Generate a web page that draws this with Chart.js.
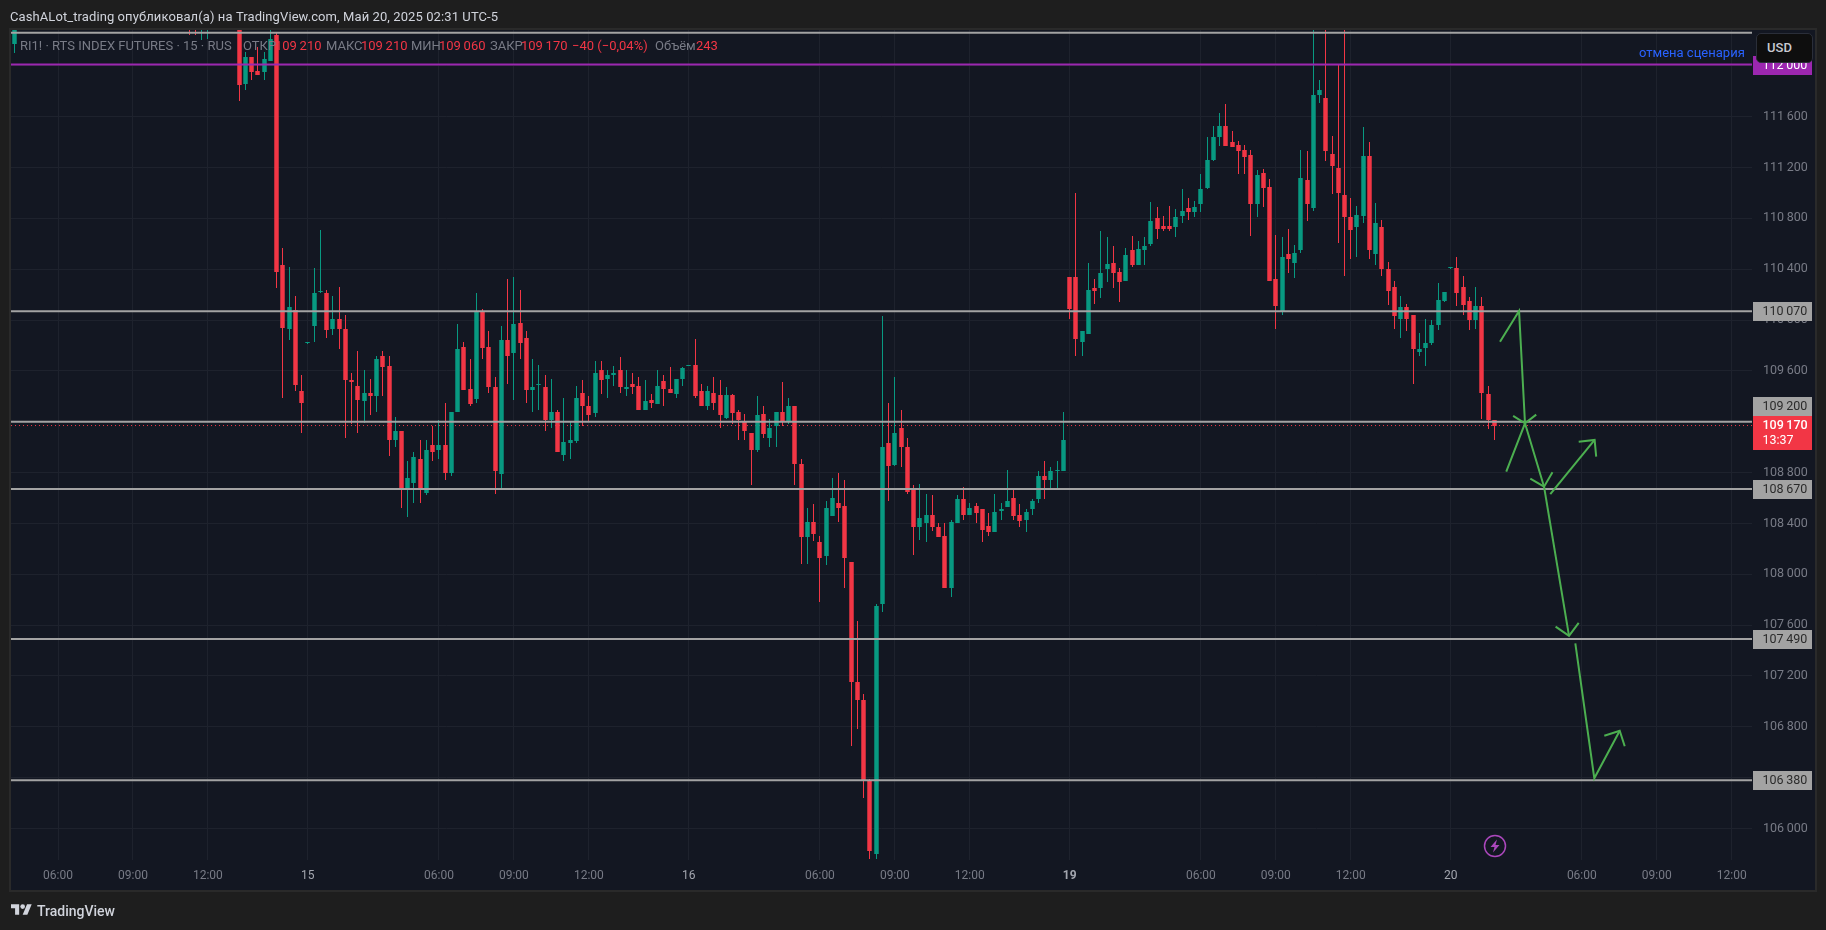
<!DOCTYPE html>
<html lang="ru">
<head>
<meta charset="utf-8">
<title>RI1! 15</title>
<script src="https://cdn.jsdelivr.net/npm/chart.js@4"></script>
<style>
  html, body { margin: 0; padding: 0; background: #1e1e1e; overflow: hidden; }
  #wrap { position: relative; width: 1826px; height: 930px; font-family: Roboto, sans-serif; }
  #wrap canvas { position: absolute; left: 0; top: 0; }
  .txt { position: absolute; white-space: pre; font-size: 13px; line-height: 16px; }
  .lab { color: #787b86; }
  .val { color: #f23645; }
  #usd { position: absolute; left: 1756px; top: 33px; width: 55px; height: 28px; background: #0e0e0e;
         border: 1px solid #2a2e39; border-radius: 5px; color: #c8cad2; font-size: 13px; font-weight: 500;
         line-height: 28px; text-indent: 10px; }
</style>
</head>
<body>
<div id="wrap">
  <canvas id="chart" width="1826" height="930"></canvas>

  <div class="txt" style="left:10px;top:9px;color:#d1d4dc;letter-spacing:0.09px">CashALot_trading опубликовал(а) на TradingView.com, Май 20, 2025 02:31 UTC-5</div>

  <div class="txt lab" style="left:20px;top:38px">RI1! · RTS INDEX FUTURES · 15 · RUS</div>
  <div class="txt lab" style="left:243px;top:38px">ОТКР</div>
  <div class="txt val" style="left:275px;top:38px">109&#8201;210</div>
  <div class="txt lab" style="left:326px;top:38px">МАКС</div>
  <div class="txt val" style="left:361px;top:38px">109&#8201;210</div>
  <div class="txt lab" style="left:411px;top:38px">МИН</div>
  <div class="txt val" style="left:439px;top:38px">109&#8201;060</div>
  <div class="txt lab" style="left:490px;top:38px">ЗАКР</div>
  <div class="txt val" style="left:521px;top:38px">109&#8201;170</div>
  <div class="txt val" style="left:572px;top:38px">−40 (−0,04%)</div>
  <div class="txt lab" style="left:655px;top:38px">Объём</div>
  <div class="txt val" style="left:696px;top:38px">243</div>

  <div class="txt" style="left:1639px;top:45px;color:#2962ff">отмена сценария</div>
  <div id="usd">USD</div>

  <svg style="position:absolute;left:1482px;top:833px" width="26" height="26" viewBox="0 0 26 26">
    <circle cx="13" cy="13" r="10.5" fill="none" stroke="#ab47bc" stroke-width="1.5"/>
    <path d="M15 6.5 L8.5 14 H12.5 L11 19.5 L17.5 12 H13.5 Z" fill="#ab47bc"/>
  </svg>

  <svg style="position:absolute;left:11px;top:904px" width="21" height="11" viewBox="0 4 36 18">
    <path fill="#d1d4dc" d="M14 22H7V11H0V4h14v18zM28 22h-8l7.5-18h8L28 22z"/>
    <circle fill="#d1d4dc" cx="20" cy="8" r="4"/>
  </svg>
  <div class="txt" style="left:37px;top:903px;color:#d1d4dc;font-size:14px;font-weight:500">TradingView</div>
</div>

<script>
const n = null; // candle sits above the visible price range

// 15 min candles, left to right
const opens = [
  112170,n,n,n,n,n,n,n,n,n,
  n,n,n,n,n,n,n,n,n,n,
  n,n,n,n,n,n,n,n,112330,112330,
  112300,112300,n,n,n,n,112300,111860,112070,111960,
  111950,112040,112240,110430,109930,110080,109440,109820,109950,110220,
  110210,109930,110010,109930,109530,109480,109360,109430,109400,109720,
  109640,109060,109130,108670,108720,108910,108640,109020,108980,109020,
  108800,109280,109790,109460,109380,110060,109790,109470,108790,109840,
  109740,109980,109860,109450,109490,109470,109210,109280,108940,109030,
  109050,109430,109320,109270,109610,109540,109570,109610,109460,109500,
  109480,109290,109370,109340,109520,109460,109420,109540,109640,109650,
  109440,109320,109430,109410,109230,109410,109280,109200,109110,108980,
  109260,109070,109170,109280,109200,109320,108870,108290,108410,108250,
  108140,108460,108560,108540,108100,107150,107010,106370,105800,107770,
  109030,108860,109150,109000,108660,108370,108400,108470,108370,108300,
  107890,108400,108590,108470,108540,108510,108380,108330,108500,108530,
  108600,108470,108430,108510,108590,108770,108740,108810,108810,110340,
  110340,109830,109890,110250,110250,110400,110450,110380,110310,110550,
  110430,110550,110600,110800,110740,110740,110730,110820,110880,110850,
  110910,111040,111260,111440,111530,111400,111380,111340,111300,110910,
  111160,111050,110320,110070,110520,110450,110550,111100,110880,111770,
  111750,111310,111200,110980,110810,110730,110820,111290,110520,110730,
  110400,110260,110010,110100,110040,109750,109780,109820,109960,110150,
  110410,110410,110260,110150,110000,110110,109420,109210
];
const highs = [
  112300,n,n,n,n,n,n,n,n,n,
  n,n,n,n,n,n,n,n,n,n,
  n,n,n,n,n,n,n,n,112330,112330,
  112330,112330,n,n,n,n,112300,112110,112070,112150,
  112110,112290,112260,110570,110420,110190,109570,109820,110410,110710,
  110240,110190,110260,110040,109580,109760,109610,109540,109720,109760,
  109720,109240,109130,108890,108960,109060,109060,109170,109210,109350,
  109280,109970,109830,109690,110210,110090,109910,109550,109950,110320,
  110340,110240,109910,109690,109650,109570,109540,109290,109390,109200,
  109480,109530,109400,109680,109680,109610,109640,109710,109610,109580,
  109550,109530,109420,109610,109570,109630,109540,109630,109650,109850,
  109500,109480,109550,109530,109470,109420,109290,109260,109110,109400,
  109320,109220,109280,109510,109390,109320,108910,108520,108550,108300,
  108580,108760,108800,108740,108100,107630,107060,106390,107770,110030,
  109350,109550,109290,109070,108700,108710,108630,108620,108400,108400,
  108430,108620,108690,108560,108560,108510,108480,108630,108560,108820,
  108660,108550,108510,108590,108810,108890,108840,108890,109280,110340,
  111000,109910,110450,110320,110700,110650,110580,110410,110570,110660,
  110620,110650,110930,110890,110820,110900,110870,111030,110960,110940,
  111150,111440,111530,111630,111700,111490,111410,111380,111340,111180,
  111190,111110,110670,110650,110720,110590,111340,111330,112290,111890,
  112290,111450,112010,112290,110960,110900,111520,111400,110920,110790,
  110460,110310,110190,110130,110040,109900,110010,110000,110290,110220,
  110410,110500,110350,110180,110260,110180,109480,109210
];
const lows = [
  112100,n,n,n,n,n,n,n,n,n,
  n,n,n,n,n,n,n,n,n,n,
  n,n,n,n,n,n,n,n,112240,112240,
  112200,112210,n,n,n,n,111720,111810,111890,111930,
  111890,112040,110250,109390,109840,109440,109110,109820,109830,110210,
  109860,109880,109770,109070,109180,109110,109190,109250,109280,109400,
  108930,109000,108520,108450,108560,108560,108620,108890,108910,108740,
  108770,109280,109450,109320,109350,109690,109430,108630,108660,109500,
  109370,109690,109350,109280,109290,109130,109150,108960,108890,108910,
  109030,109170,109200,109240,109420,109390,109480,109430,109400,109420,
  109290,109290,109310,109340,109320,109430,109390,109480,109640,109390,
  109320,109290,109290,109150,109220,109180,109060,109060,108700,108960,
  109070,109000,109000,109170,109180,108700,108080,108080,108260,107780,
  108070,108460,108410,107890,106650,106780,106240,105760,105760,107700,
  108580,108850,108840,108630,108150,108270,108250,108340,108290,107890,
  107820,108400,108430,108470,108400,108250,108300,108330,108430,108530,
  108430,108370,108330,108470,108560,108590,108670,108670,108810,110010,
  109720,109720,109890,110130,110170,110300,110250,110140,110310,110420,
  110430,110430,110580,110640,110700,110700,110650,110760,110790,110810,
  110850,111030,111250,111370,111370,111360,111150,111150,110660,110810,
  110890,110310,109930,110040,110370,110330,110530,110780,110860,111710,
  111250,110990,110610,110350,110480,110500,110760,110480,110430,110350,
  110120,109930,109860,109910,109500,109720,109640,109800,109920,110140,
  110410,110110,110040,109920,109930,109220,109140,109060
];
const closes = [
  112290,n,n,n,n,n,n,n,n,n,
  n,n,n,n,n,n,n,n,n,n,
  n,n,n,n,n,n,n,n,112300,112300,
  112330,112330,n,n,n,n,111850,112070,111950,111930,
  112050,112210,110380,109940,110100,109490,109350,109820,110210,110230,
  109920,110010,109930,109530,109510,109370,109430,109400,109690,109630,
  109060,109130,108660,108760,108920,108660,108980,108960,109020,108800,
  109280,109770,109450,109340,110060,109780,109470,108810,109840,109720,
  109970,109820,109450,109470,109500,109210,109280,108960,109040,109060,
  109390,109320,109250,109580,109530,109570,109580,109470,109470,109470,
  109290,109360,109350,109480,109460,109430,109540,109620,109650,109400,
  109320,109440,109350,109250,109410,109270,109210,109130,108980,109250,
  109100,109150,109280,109200,109320,108870,108290,108410,108320,108130,
  108520,108600,108520,108130,107150,107010,106370,105820,107750,109000,
  108850,109110,109000,108650,108370,108440,108470,108370,108290,107890,
  108410,108590,108470,108520,108480,108350,108330,108490,108510,108580,
  108460,108420,108490,108580,108770,108740,108810,108820,109060,110090,
  109850,109910,110240,110230,110370,110440,110370,110300,110510,110430,
  110560,110580,110780,110720,110720,110720,110810,110860,110850,110890,
  111030,111260,111440,111530,111370,111360,111330,111280,110910,111140,
  111040,110310,110110,110500,110480,110530,111120,110910,111770,111810,
  111330,111210,111000,110810,110710,110830,111290,110550,110760,110400,
  110230,110030,110100,110010,109770,109770,109820,109960,110160,110220,
  110410,110210,110120,110000,110110,109430,109210,109170
];

// time axis: candle number of each label
const timeTickIdx = [7, 19, 31, 47, 68, 80, 92, 108, 129, 141, 153, 169, 190, 202, 214, 230, 251, 263, 275];
const timeTickLabels = ["06:00", "09:00", "12:00", "15", "06:00", "09:00", "12:00", "16", "06:00", "09:00", "12:00", "19", "06:00", "09:00", "12:00", "20", "06:00", "09:00", "12:00"];
const dayLabels = ["15", "16", "19", "20"];

const priceTicks = [106000, 106400, 106800, 107200, 107600, 108000, 108400, 108800, 109200, 109600, 110000, 110400, 110800, 111200, 111600, 112000];

// levels drawn on the chart
const grayLevels = [112260, 110070, 109200, 108670, 107490, 106380];
const purpleLevel = 112010;
const lastPrice = 109170;
const taggedLevels = [110070, 108670, 107490, 106380];

// hand drawn forecast, [candle number, price]
const arrowStrokes = [
  [[237.9, 109830], [240.95, 110072], [241.9, 109188]],
  [[240.0, 109246], [241.9, 109188], [243.7, 109256]],
  [[238.9, 108807], [241.9, 109188], [244.95, 108689]],
  [[242.75, 108752], [244.95, 108689], [246.3, 108803]],
  [[245.95, 108630], [253.05, 109057]],
  [[250.5, 109043], [253.05, 109057], [253.3, 108925]],
  [[244.95, 108689], [248.95, 107515]],
  [[246.8, 107588], [248.95, 107515], [250.5, 107617]],
  [[249.96, 107457], [253.0, 106395], [257.07, 106769]],
  [[254.6, 106730], [257.07, 106769], [257.87, 106647]]
];

const GREEN = "#089981";
const RED = "#f23645";
const PANEL = "#131722";
const GRID = "#1e222d";
const AXIS_TEXT = "#787b86";

// x range of the plot in candle numbers, y range in price
const X_MIN = -0.53;
const X_MAX = 278.25;
const Y_MIN = 105752;
const Y_MAX = 112282;

const wickData = [];
const bodyData = [];
const candleColors = [];
opens.forEach((o, i) => {
  if (o === null) return;
  const c = closes[i];
  wickData.push({ x: i, y: [lows[i], highs[i]] });
  bodyData.push({ x: i, y: [Math.min(o, c), Math.max(o, c)] });
  candleColors.push(c >= o ? GREEN : RED);
});

function levelData(price) {
  return [{ x: X_MIN, y: price }, { x: X_MAX, y: price }];
}

function priceText(v) {
  const s = String(v);
  return s.slice(0, 3) + "\u2009" + s.slice(3);
}

const levelDatasets = grayLevels.map((p) => ({
  type: "line", data: levelData(p), borderColor: "#a3a3a3", borderWidth: 2, pointRadius: 0, order: 3
}));

const arrowDatasets = arrowStrokes.map((s) => ({
  type: "line", data: s.map((pt) => ({ x: pt[0], y: pt[1] })), borderColor: "#4caf50",
  borderWidth: 2, pointRadius: 0, tension: 0, order: 1
}));

// panel behind the chart
const panelPlugin = {
  id: "panel",
  beforeDraw(chart) {
    const ctx = chart.ctx;
    ctx.save();
    ctx.fillStyle = "#2a2a2a";
    ctx.fillRect(9, 28, 1808, 864);
    ctx.fillStyle = PANEL;
    ctx.fillRect(11, 30, 1804, 860);
    ctx.restore();
  }
};

// snap candles to whole pixels, otherwise they blur
const snapPlugin = {
  id: "snap",
  beforeDatasetsDraw(chart) {
    chart.data.datasets.forEach((ds, i) => {
      if (ds.type !== "bar" && ds.type !== undefined) return;
      chart.getDatasetMeta(i).data.forEach((el) => {
        el.x = Math.round(el.x - 0.5) + 0.5;
        el.y = Math.round(el.y);
        el.base = Math.max(Math.round(el.base), el.y + 1);
      });
    });
  }
};

// price tags over the right axis
const tagsPlugin = {
  id: "tags",
  afterDraw(chart) {
    const ctx = chart.ctx;
    const y = chart.scales.y;
    const left = 1753;
    const w = 59;

    function tag(top, h, color) {
      ctx.fillStyle = color;
      ctx.fillRect(left, top, w, h);
    }
    function label(text, cy, color, font) {
      ctx.fillStyle = color;
      ctx.font = font || "12.5px Roboto";
      ctx.textAlign = "left";
      ctx.textBaseline = "middle";
      ctx.fillText(text, left + 9.5, cy);
    }

    ctx.save();
    taggedLevels.forEach((p) => {
      const py = Math.round(y.getPixelForValue(p));
      tag(py - 9, 19, "#a3a3a3");
      label(priceText(p), py + 1, "#2b2b2b");
    });

    const py = Math.round(y.getPixelForValue(purpleLevel));
    tag(py - 9, 19, "#9c27b0");
    label(priceText(112000), py + 1, "#ffffff");

    // the 109 200 tag is pushed up by the last price tag
    tag(397, 19, "#a3a3a3");
    label(priceText(109200), 407, "#2b2b2b");
    tag(416, 34, RED);
    label(priceText(lastPrice), 426, "#ffffff", "500 12.5px Roboto");
    label("13:37", 441, "#ffffff");
    ctx.restore();
  }
};

new Chart(document.getElementById("chart"), {
  type: "bar",
  data: {
    datasets: [
      { type: "line", data: levelData(lastPrice), borderColor: RED, borderWidth: 1, borderDash: [1, 3], pointRadius: 0, order: 6 },
      { data: wickData, backgroundColor: candleColors, borderWidth: 0, grouped: false, maxBarThickness: 1, order: 5 },
      { data: bodyData, backgroundColor: candleColors, borderWidth: 0, grouped: false, maxBarThickness: 5, minBarLength: 1, order: 4 },
      ...levelDatasets,
      { type: "line", data: levelData(purpleLevel), borderColor: "#9c27b0", borderWidth: 2, pointRadius: 0, order: 2 },
      ...arrowDatasets
    ]
  },
  options: {
    responsive: false,
    animation: false,
    layout: { padding: { left: 11, top: 30, right: 11, bottom: 40 } },
    plugins: { legend: { display: false }, tooltip: { enabled: false } },
    scales: {
      x: {
        type: "linear",
        min: X_MIN,
        max: X_MAX,
        offset: false,
        grid: { color: GRID, offset: false, drawTicks: false },
        border: { display: false },
        afterBuildTicks(scale) {
          scale.ticks = timeTickIdx.map((v) => ({ value: v }));
        },
        afterFit(scale) {
          scale.height = 30;
        },
        ticks: {
          autoSkip: false,
          maxRotation: 0,
          padding: 9,
          font: (c) => ({ family: "Roboto", size: 12, weight: timeTickLabels[timeTickIdx.indexOf(c.tick && c.tick.value)] === "19" ? "bold" : "normal" }),
          color: (c) => dayLabels.includes(timeTickLabels[timeTickIdx.indexOf(c.tick && c.tick.value)]) ? "#a3a6af" : AXIS_TEXT,
          callback: (v) => timeTickLabels[timeTickIdx.indexOf(v)]
        }
      },
      y: {
        position: "right",
        min: Y_MIN,
        max: Y_MAX,
        grid: { color: GRID, drawTicks: false },
        border: { display: false },
        afterBuildTicks(scale) {
          scale.ticks = priceTicks.map((v) => ({ value: v }));
        },
        afterFit(scale) {
          scale.width = 63;
        },
        ticks: {
          autoSkip: false,
          padding: 11,
          font: { family: "Roboto", size: 12.5 },
          color: AXIS_TEXT,
          callback: (v) => priceText(v)
        }
      }
    }
  },
  plugins: [panelPlugin, snapPlugin, tagsPlugin]
});
</script>
</body>
</html>
